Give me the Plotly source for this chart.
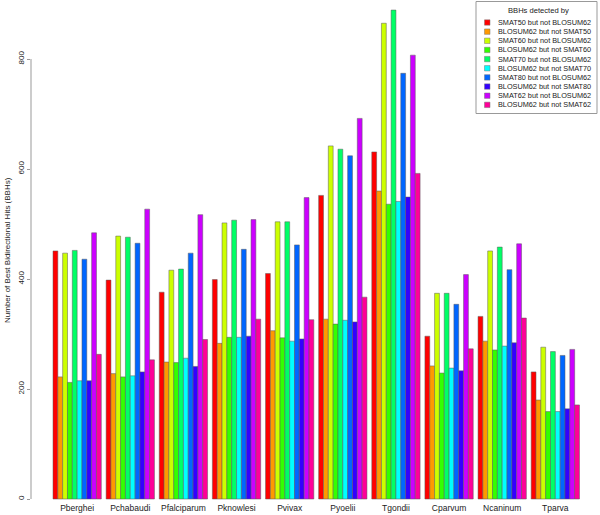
import plotly.graph_objects as go

species = ["Pberghei", "Pchabaudi", "Pfalciparum", "Pknowlesi", "Pvivax",
           "Pyoelii", "Tgondii", "Cparvum", "Ncaninum", "Tparva"]

series_names = [
    "SMAT50 but not BLOSUM62", "BLOSUM62 but not SMAT50",
    "SMAT60 but not BLOSUM62", "BLOSUM62 but not SMAT60",
    "SMAT70 but not BLOSUM62", "BLOSUM62 but not SMAT70",
    "SMAT80 but not BLOSUM62", "BLOSUM62 but not SMAT80",
    "SMAT62 but not BLOSUM62", "BLOSUM62 but not SMAT62",
]

smat50_not_b62 = [451, 398, 376, 399, 410, 552, 631, 296, 332, 231]
b62_not_smat50 = [222, 228, 249, 283, 306, 327, 560, 242, 287, 180]
smat60_not_b62 = [447, 478, 416, 502, 504, 642, 865, 374, 451, 276]
b62_not_smat60 = [212, 222, 248, 294, 293, 318, 536, 229, 271, 159]
smat70_not_b62 = [452, 476, 418, 507, 504, 636, 889, 374, 458, 268]
b62_not_smat70 = [215, 224, 256, 294, 287, 325, 541, 238, 278, 159]
smat80_not_b62 = [436, 465, 447, 454, 462, 624, 774, 354, 417, 261]
b62_not_smat80 = [215, 231, 241, 296, 291, 322, 549, 233, 284, 164]
smat62_not_b62 = [484, 527, 517, 508, 548, 692, 807, 408, 464, 272]
b62_not_smat62 = [263, 253, 290, 327, 326, 367, 592, 273, 329, 171]

series_values = [smat50_not_b62, b62_not_smat50, smat60_not_b62, b62_not_smat60,
                 smat70_not_b62, b62_not_smat70, smat80_not_b62, b62_not_smat80,
                 smat62_not_b62, b62_not_smat62]

colors = ["#FF0000", "#FF9900", "#CCFF00", "#33FF00", "#00FF66",
          "#00FFFF", "#0066FF", "#3300FF", "#CC00FF", "#FF0099"]

y_ticks = [0, 200, 400, 600, 800]

FONT = "Liberation Sans, Arial, sans-serif"

# plot-area geometry (pixels)
L, R, T, B = 31, 598, 5, 501
W, H = 600, 515


def px_x(p):
    return (p - L) / (R - L)


def px_y(p):
    return (B - p) / (B - T)


fig = go.Figure()
for name, vals, col in zip(series_names, series_values, colors):
    fig.add_trace(go.Bar(
        x=species, y=vals, name=name, showlegend=False,
        marker=dict(color=col, line=dict(color="rgba(90,90,90,0.85)", width=0.6)),
    ))

shapes = []
annotations = []

# y axis line spanning ticks only (R style)
shapes.append(dict(type="line", xref="paper", yref="y", x0=0, x1=0,
                   y0=y_ticks[0], y1=y_ticks[-1],
                   line=dict(color="#999999", width=1)))

# custom legend
shapes.append(dict(type="rect", xref="paper", yref="paper",
                   x0=px_x(476), x1=px_x(597), y0=px_y(1.5), y1=px_y(113.5),
                   line=dict(color="#999999", width=1), fillcolor="white"))
annotations.append(dict(text="BBHs detected by", xref="paper", yref="paper",
                        x=px_x(538), y=px_y(10.5), showarrow=False,
                        xanchor="center", yanchor="middle",
                        font=dict(family=FONT, size=7.6, color="#222222")))
for i, (name, col) in enumerate(zip(series_names, colors)):
    cy = 22.5 + i * 9.15
    shapes.append(dict(type="rect", xref="paper", yref="paper",
                       x0=px_x(484.5), x1=px_x(490), y0=px_y(cy + 2.7), y1=px_y(cy - 2.7),
                       line=dict(color="#777777", width=0.5), fillcolor=col))
    annotations.append(dict(text=name, xref="paper", yref="paper",
                            x=px_x(496), y=px_y(cy), showarrow=False,
                            xanchor="left", yanchor="middle",
                            font=dict(family=FONT, size=7.3, color="#222222")))

# y axis title
annotations.append(dict(text="Number of Best Bidirectional Hits (BBHs)",
                        xref="paper", yref="paper", x=px_x(8), y=px_y(250),
                        showarrow=False, textangle=-90,
                        xanchor="center", yanchor="middle",
                        font=dict(family=FONT, size=8, color="#222222")))

fig.update_layout(
    width=W, height=H,
    margin=dict(l=L, r=W - R, t=T, b=H - B, pad=0),
    paper_bgcolor="white", plot_bgcolor="white",
    barmode="group", bargap=1 / 11, bargroupgap=0,
    shapes=shapes, annotations=annotations,
    font=dict(family=FONT, size=8, color="#222222"),
    xaxis=dict(range=[-0.8686, 9.803], showgrid=False, zeroline=False,
               showline=False, ticks="", tickfont=dict(size=8.5)),
    yaxis=dict(range=[-3.64, 898.18], showgrid=False, zeroline=False,
               showline=False, tickvals=y_ticks, ticks="outside", ticklen=3,
               tickcolor="#999999", tickangle=-90, tickfont=dict(size=8)),
)

fig.write_html("out.html", config={"displayModeBar": False},
               post_script="document.body.style.margin='0';"
                           "document.body.style.overflow='hidden';")
